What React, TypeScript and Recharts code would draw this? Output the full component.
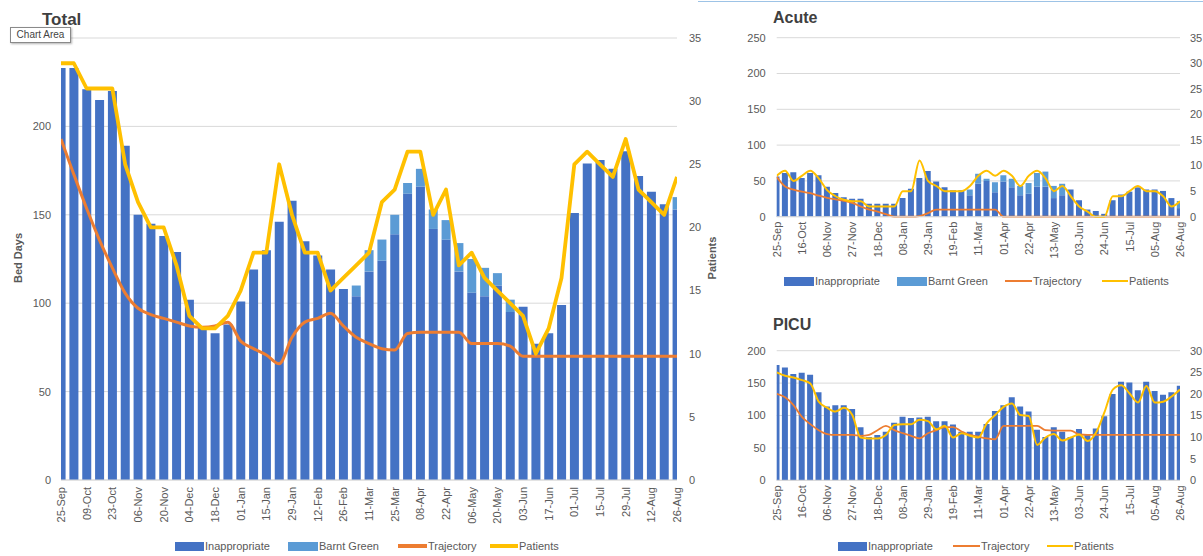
import { Bar, CartesianGrid, ComposedChart, Line, XAxis, YAxis } from 'recharts';

const FONT = "'Liberation Sans', Arial, sans-serif";
const TEXT = '#595959';
const GRID = '#d9d9d9';
const C_INAPP = '#4472C4';
const C_BARNT = '#5B9BD5';
const C_TRAJ = '#ED7D31';
const C_PAT = '#FFC000';

const weeks = [
  '25-Sep', '02-Oct', '09-Oct', '16-Oct', '23-Oct', '30-Oct', '06-Nov', '13-Nov', '20-Nov', '27-Nov',
  '04-Dec', '11-Dec', '18-Dec', '25-Dec', '01-Jan', '08-Jan', '15-Jan', '22-Jan', '29-Jan', '05-Feb',
  '12-Feb', '19-Feb', '26-Feb', '04-Mar', '11-Mar', '18-Mar', '25-Mar', '01-Apr', '08-Apr', '15-Apr',
  '22-Apr', '29-Apr', '06-May', '13-May', '20-May', '27-May', '03-Jun', '10-Jun', '17-Jun', '24-Jun',
  '01-Jul', '08-Jul', '15-Jul', '22-Jul', '29-Jul', '05-Aug', '12-Aug', '19-Aug', '26-Aug',
];

// Total
const totalInappropriate = [
  233, 233, 221, 215, 220, 189, 150, 145, 138, 129, 102, 86, 83, 88, 101, 119, 130, 146, 158, 135,
  127, 119, 108, 104, 118, 124, 139, 162, 166, 142, 136, 118, 106, 104, 110, 95, 98, 77, 83, 99,
  151, 179, 181, 176, 186, 172, 163, 156, 153,
];
const totalBarntGreen = [
  0, 0, 0, 0, 0, 0, 0, 0, 0, 0, 0, 0, 0, 0, 0, 0, 0, 0, 0, 0,
  0, 0, 0, 6, 12, 12, 11, 6, 10, 11, 11, 16, 19, 16, 7, 7, 0, 0, 0, 0,
  0, 0, 0, 0, 0, 0, 0, 0, 7,
];
const totalTrajectory = [
  27, 24.2, 21.5, 19, 16.8, 14.8, 13.6, 13.1, 12.8, 12.5, 12.2, 12.1, 12.2, 12.5, 11, 10.4, 9.9, 9.2, 11.3, 12.5,
  12.8, 13.2, 12.2, 11.3, 10.8, 10.4, 10.3, 11.6, 11.7, 11.7, 11.7, 11.7, 10.8, 10.8, 10.8, 10.6, 9.8, 9.8, 9.8, 9.8,
  9.8, 9.8, 9.8, 9.8, 9.8, 9.8, 9.8, 9.8, 9.8,
];
const totalPatients = [
  33, 33, 31, 31, 31, 25, 22, 20, 20, 17, 13, 12, 12, 13, 15, 18, 18, 25, 21, 18,
  18, 15, 16, 17, 18, 22, 23, 26, 26, 21, 23, 17, 18, 16, 15, 14, 13, 10, 12, 16,
  25, 26, 25, 24, 27, 23, 22, 21, 24,
];

// Acute
const acuteInappropriate = [
  56, 61, 62, 54, 61, 58, 42, 33, 27, 25, 25, 18, 18, 18, 18, 26, 39, 54, 64, 49,
  41, 37, 37, 30, 46, 50, 34, 49, 41, 30, 32, 42, 42, 26, 30, 38, 23, 10, 8, 4,
  23, 31, 35, 41, 38, 38, 36, 26, 12,
];
const acuteBarntGreen = [
  0, 0, 0, 0, 0, 0, 0, 0, 0, 0, 0, 0, 0, 0, 0, 0, 0, 0, 0, 0,
  0, 0, 0, 8, 14, 3, 14, 9, 12, 13, 15, 19, 21, 17, 16, 0, 0, 0, 0, 0,
  0, 0, 0, 0, 0, 0, 0, 0, 10,
];
const acuteTrajectory = [
  7.8, 5.9, 5.3, 4.9, 4.6, 4.1, 3.7, 3.4, 3.1, 2.7, 2, 1.4, 1, 0.5, 0, 0, 0, 0.1, 0.7, 1.4,
  1.4, 1.4, 1.4, 1.4, 1.4, 1.4, 1.4, 0, 0, 0, 0, 0, 0, 0, 0, 0, 0, 0, 0, 0,
  0, 0, 0, 0, 0, 0, 0, 0, 0,
];
const acutePatients = [
  8, 9, 7, 8, 9, 7.5, 5.2, 4, 3.3, 3, 3, 2, 2, 2, 2, 5, 5, 11, 7, 6,
  5, 5, 5, 6, 8, 9, 8, 9, 8, 6, 8, 9, 7.5, 5, 6, 4, 2, 1, 0, 0,
  4, 4, 5, 6, 5, 5, 4, 2, 3,
];

// PICU
const picuInappropriate = [
  178, 174, 164, 166, 163, 136, 114, 116, 116, 110, 82, 67, 70, 75, 89, 98, 96, 97, 98, 91,
  91, 86, 75, 75, 75, 87, 107, 116, 128, 114, 106, 78, 67, 82, 75, 67, 79, 70, 80, 99,
  133, 152, 151, 139, 152, 138, 132, 136, 146,
];
const picuTrajectory = [
  20, 19.2, 17.4, 14.7, 13, 11.6, 10.7, 10.5, 10.5, 10.5, 10.3, 10.5, 11.6, 12.6, 11.6, 10.9, 10.3, 9.7, 10.9, 11.6,
  12.3, 12.3, 11.3, 10.5, 10.1, 9.7, 9.5, 12.6, 12.6, 12.6, 12.6, 12.6, 11.6, 11.5, 11.5, 11.5, 10.6, 10.5, 10.5, 10.5,
  10.5, 10.5, 10.5, 10.5, 10.5, 10.5, 10.5, 10.5, 10.5,
];
const picuPatients = [
  25, 24.2, 23.8, 23.2, 22.4, 18.2, 16.8, 15.9, 16.8, 15.1, 9.9, 9.7, 9.7, 10.5, 12.8, 13, 13, 14, 13.7, 11.8,
  12.6, 9.9, 10.9, 10.3, 9.9, 13.2, 15.1, 17, 17.8, 15.1, 14.9, 8.2, 9.9, 10.7, 9.2, 9.9, 10.6, 9.1, 11, 15.7,
  21, 22, 20.1, 18, 21.8, 18, 18.2, 19.4, 21,
];

const bedTicks250 = [0, 50, 100, 150, 200, 250];
const bedTicks200 = [0, 50, 100, 150, 200];
const patientTicks35 = [0, 5, 10, 15, 20, 25, 30, 35];
const patientTicks30 = [0, 5, 10, 15, 20, 25, 30];

const totalTickIdx = weeks.map((_, i) => i).filter((i) => i % 2 === 0);
const smallTickIdx = weeks.map((_, i) => i).filter((i) => i % 3 === 0);

interface Row {
  idx: number;
  week: string;
  inapp: number;
  barnt: number;
  traj: number;
  patients: number;
}

function buildRows(inapp: number[], barnt: number[] | null, traj: number[], patients: number[]): Row[] {
  return weeks.map((week, idx) => ({
    idx,
    week,
    inapp: inapp[idx],
    barnt: barnt ? barnt[idx] : 0,
    traj: traj[idx],
    patients: patients[idx],
  }));
}

const totalRows = buildRows(totalInappropriate, totalBarntGreen, totalTrajectory, totalPatients);
const acuteRows = buildRows(acuteInappropriate, acuteBarntGreen, acuteTrajectory, acutePatients);
const picuRows = buildRows(picuInappropriate, null, picuTrajectory, picuPatients);

function DateTick(props: any) {
  const { x, y, payload } = props;
  return (
    <text
      x={x}
      y={y}
      transform={`rotate(-90 ${x} ${y})`}
      textAnchor="end"
      dominantBaseline="central"
      fontSize={11}
      fill={TEXT}
      fontFamily={FONT}
    >
      {weeks[payload.value]}
    </text>
  );
}

interface PanelProps {
  left: number;
  top: number;
  width: number;
  height: number;
  margin: { top: number; right: number; bottom: number; left: number };
  rows: Row[];
  tickIdx: number[];
  leftMax: number;
  leftTicks: number[];
  rightMax: number;
  rightTicks: number[];
  leftAxisWidth: number;
  rightAxisWidth: number;
  xAxisHeight: number;
  xTickSize: number;
  leftTickMargin: number;
  rightTickMargin: number;
  barSize: number;
  patWidth: number;
  trajWidth: number;
  patType: 'linear' | 'monotone';
  showBarnt: boolean;
  hideTopLeftLabel?: boolean;
}

function Panel(p: PanelProps) {
  const tickStyle = { fontSize: 11, fill: TEXT, fontFamily: FONT };
  // the top left label sits under the "Chart Area" hint box in the reference
  const leftFormat = (v: number) => (p.hideTopLeftLabel && v === p.leftMax ? '' : String(v));
  return (
    <div style={{ position: 'absolute', left: p.left, top: p.top }}>
      <ComposedChart width={p.width} height={p.height} data={p.rows} margin={p.margin}>
        <CartesianGrid yAxisId="left" vertical={false} stroke={GRID} />
        <XAxis
          dataKey="idx"
          type="number"
          domain={[0, 48]}
          ticks={p.tickIdx}
          interval={0}
          allowDataOverflow
          height={p.xAxisHeight}
          stroke={GRID}
          tickLine={false}
          tickSize={p.xTickSize}
          tickMargin={1}
          tick={<DateTick />}
        />
        <YAxis
          yAxisId="left"
          domain={[0, p.leftMax]}
          ticks={p.leftTicks}
          width={p.leftAxisWidth}
          axisLine={false}
          tickLine={false}
          tickMargin={p.leftTickMargin}
          tickFormatter={leftFormat}
          tick={tickStyle}
        />
        <YAxis
          yAxisId="right"
          orientation="right"
          domain={[0, p.rightMax]}
          ticks={p.rightTicks}
          width={p.rightAxisWidth}
          axisLine={false}
          tickLine={false}
          tickMargin={p.rightTickMargin}
          tick={{ ...tickStyle, textAnchor: 'start' }}
        />
        <Bar yAxisId="left" dataKey="inapp" stackId="a" fill={C_INAPP} barSize={p.barSize} isAnimationActive={false} />
        {p.showBarnt && (
          <Bar yAxisId="left" dataKey="barnt" stackId="a" fill={C_BARNT} barSize={p.barSize} isAnimationActive={false} />
        )}
        <Line
          yAxisId="right"
          dataKey="traj"
          type="monotone"
          stroke={C_TRAJ}
          strokeWidth={p.trajWidth}
          dot={false}
          activeDot={false}
          isAnimationActive={false}
        />
        <Line
          yAxisId="right"
          dataKey="patients"
          type={p.patType}
          stroke={C_PAT}
          strokeWidth={p.patWidth}
          strokeLinejoin="round"
          dot={false}
          activeDot={false}
          isAnimationActive={false}
        />
      </ComposedChart>
    </div>
  );
}

interface LegendItemProps {
  x: number;
  y: number;
  kind: 'rect' | 'line';
  color: string;
  label: string;
  w: number;
  thick?: number;
}

function LegendItem({ x, y, kind, color, label, w, thick = 3 }: LegendItemProps) {
  return (
    <div
      style={{
        position: 'absolute',
        left: x,
        top: y - 8,
        height: 16,
        display: 'flex',
        alignItems: 'center',
        fontSize: 11,
        color: TEXT,
        fontFamily: FONT,
        whiteSpace: 'nowrap',
      }}
    >
      <span style={{ display: 'inline-block', width: w, height: kind === 'rect' ? 9 : thick, background: color }} />
      <span style={{ marginLeft: 1 }}>{label}</span>
    </div>
  );
}

export default function App() {
  return (
    <div
      style={{
        position: 'absolute',
        left: 0,
        top: 0,
        width: 1203,
        height: 556,
        overflow: 'hidden',
        background: '#fff',
        fontFamily: FONT,
      }}
    >
      <div style={{ position: 'absolute', left: 698, top: 1, width: 505, height: 1, background: '#9dc3e6' }} />

      <Panel
        left={0}
        top={0}
        width={730}
        height={540}
        margin={{ top: 38, right: 23, bottom: 0, left: 21 }}
        rows={totalRows}
        tickIdx={totalTickIdx}
        leftMax={250}
        leftTicks={bedTicks250}
        rightMax={35}
        rightTicks={patientTicks35}
        leftAxisWidth={40}
        rightAxisWidth={30}
        xAxisHeight={60}
        xTickSize={6}
        leftTickMargin={4}
        rightTickMargin={6}
        barSize={9}
        patWidth={3.8}
        trajWidth={3}
        patType="linear"
        showBarnt
        hideTopLeftLabel
      />
      <Panel
        left={740}
        top={0}
        width={470}
        height={270}
        margin={{ top: 37.7, right: 5, bottom: 3.3, left: 6.7 }}
        rows={acuteRows}
        tickIdx={smallTickIdx}
        leftMax={250}
        leftTicks={bedTicks250}
        rightMax={35}
        rightTicks={patientTicks35}
        leftAxisWidth={30}
        rightAxisWidth={25}
        xAxisHeight={50}
        xTickSize={4}
        leftTickMargin={5}
        rightTickMargin={4}
        barSize={6}
        patWidth={2}
        trajWidth={1.8}
        patType="monotone"
        showBarnt
      />
      <Panel
        left={740}
        top={300}
        width={470}
        height={240}
        margin={{ top: 50.7, right: 5, bottom: 9.7, left: 6.7 }}
        rows={picuRows}
        tickIdx={smallTickIdx}
        leftMax={200}
        leftTicks={bedTicks200}
        rightMax={30}
        rightTicks={patientTicks30}
        leftAxisWidth={30}
        rightAxisWidth={25}
        xAxisHeight={50}
        xTickSize={4}
        leftTickMargin={5}
        rightTickMargin={4}
        barSize={6}
        patWidth={2}
        trajWidth={1.8}
        patType="monotone"
        showBarnt={false}
      />

      <svg
        width={1203}
        height={556}
        style={{ position: 'absolute', left: 0, top: 0, pointerEvents: 'none' }}
        fontFamily={FONT}
      >
        <text x={42} y={25} fontSize={17} fontWeight="bold" fill="#404040">Total</text>
        <text x={773} y={23} fontSize={16} fontWeight="bold" fill="#404040">Acute</text>
        <text x={773} y={330} fontSize={16} fontWeight="bold" fill="#404040">PICU</text>
        <text
          x={22}
          y={258}
          transform="rotate(-90 22 258)"
          textAnchor="middle"
          fontSize={11}
          fontWeight="bold"
          fill={TEXT}
        >
          Bed Days
        </text>
        <text
          x={716}
          y={258}
          transform="rotate(-90 716 258)"
          textAnchor="middle"
          fontSize={11}
          fontWeight="bold"
          fill={TEXT}
        >
          Patients
        </text>
      </svg>

      <div
        style={{
          position: 'absolute',
          left: 10,
          top: 27,
          width: 59,
          height: 14,
          border: '1px solid #8a8a8a',
          background: '#fff',
          boxShadow: '1px 1px 2px rgba(0,0,0,0.3)',
          fontSize: 10,
          lineHeight: '14px',
          color: '#444',
          textAlign: 'center',
          fontFamily: FONT,
        }}
      >
        Chart Area
      </div>

      <LegendItem x={175} y={546} kind="rect" color={C_INAPP} label="Inappropriate" w={29} />
      <LegendItem x={288} y={546} kind="rect" color={C_BARNT} label="Barnt Green" w={30} />
      <LegendItem x={398} y={546} kind="line" color={C_TRAJ} label="Trajectory" w={29} thick={4} />
      <LegendItem x={490} y={546} kind="line" color={C_PAT} label="Patients" w={28} thick={4} />

      <LegendItem x={784} y={281} kind="rect" color={C_INAPP} label="Inappropriate" w={30} />
      <LegendItem x={897} y={281} kind="rect" color={C_BARNT} label="Barnt Green" w={30} />
      <LegendItem x={1005} y={281} kind="line" color={C_TRAJ} label="Trajectory" w={27} thick={2} />
      <LegendItem x={1102} y={281} kind="line" color={C_PAT} label="Patients" w={26} thick={2} />

      <LegendItem x={838} y={546} kind="rect" color={C_INAPP} label="Inappropriate" w={29} />
      <LegendItem x={953} y={546} kind="line" color={C_TRAJ} label="Trajectory" w={27} thick={2} />
      <LegendItem x={1047} y={546} kind="line" color={C_PAT} label="Patients" w={26} thick={2} />
    </div>
  );
}
